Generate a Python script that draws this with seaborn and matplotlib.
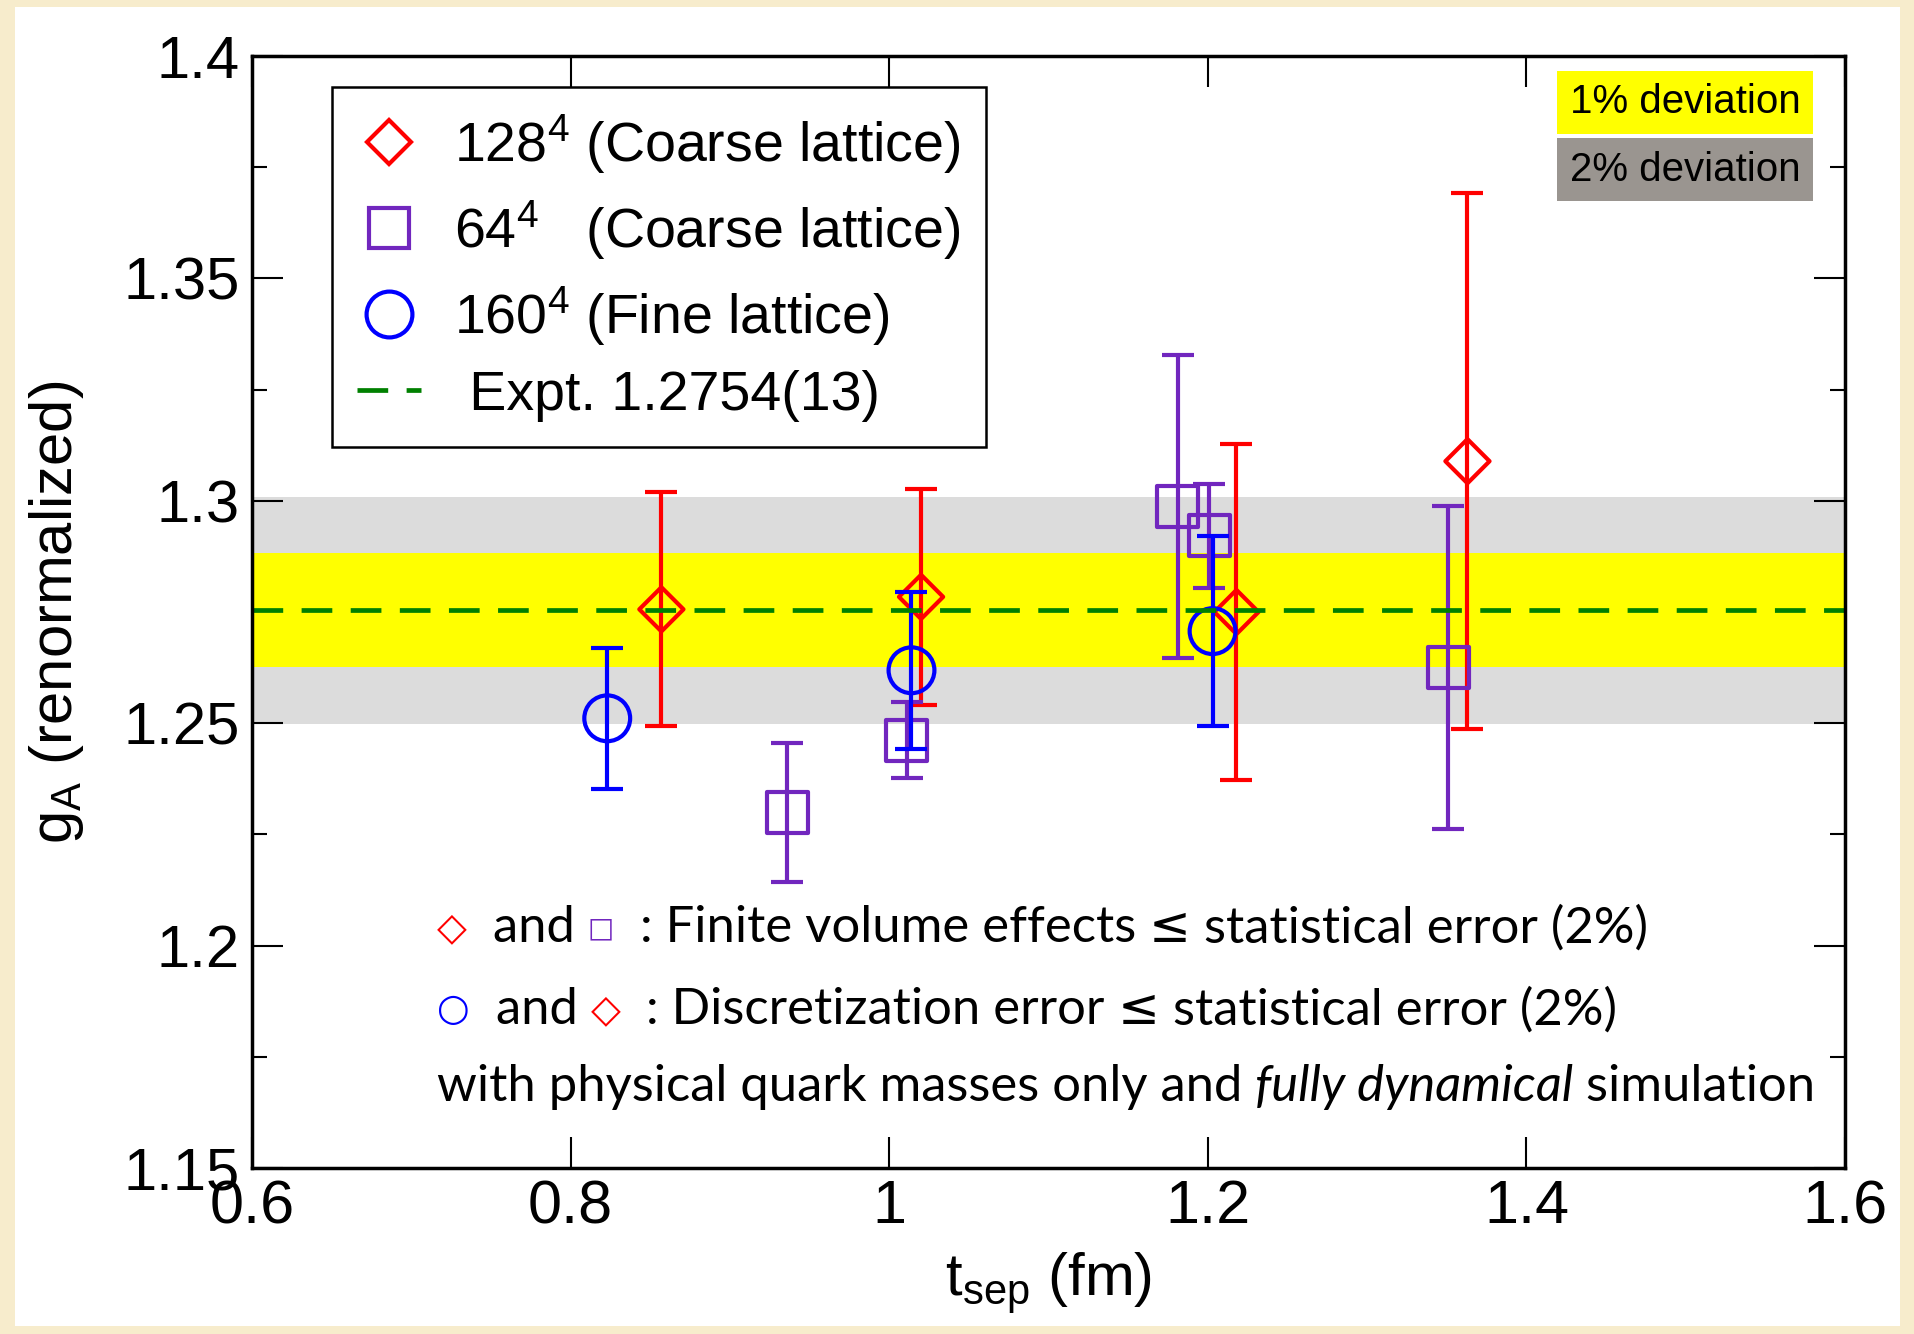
import numpy as np
import pandas as pd
import matplotlib
matplotlib.use("Agg")
import matplotlib.pyplot as plt
import seaborn as sns
from matplotlib.lines import Line2D
from matplotlib.patches import Rectangle
from matplotlib.ticker import MultipleLocator

# ---------------- data ----------------
t_coarse128 = [0.857, 1.020, 1.218, 1.363]
g_coarse128 = [1.2756, 1.2784, 1.2750, 1.3089]
e_coarse128 = [0.0263, 0.0243, 0.0378, 0.0602]

t_coarse64 = [0.936, 1.011, 1.181, 1.201, 1.351]
g_coarse64 = [1.2299, 1.2462, 1.2987, 1.2921, 1.2625]
e_coarse64 = [0.0156, 0.0086, 0.0340, 0.0117, 0.0363]

t_fine160 = [0.823, 1.014, 1.203]
g_fine160 = [1.2511, 1.2619, 1.2707]
e_fine160 = [0.0159, 0.0177, 0.0214]

g_expt = 1.2754
dev_1pct = 0.01
dev_2pct = 0.02

x_ticks = [0.6, 0.8, 1.0, 1.2, 1.4, 1.6]
x_ticklabels = ["0.6", "0.8", "1", "1.2", "1.4", "1.6"]
y_ticks = [1.15, 1.2, 1.25, 1.3, 1.35, 1.4]
y_ticklabels = ["1.15", "1.2", "1.25", "1.3", "1.35", "1.4"]

legend_labels = [r"128$^{4}$ (Coarse lattice)",
                 r"64$^{4}$   (Coarse lattice)",
                 r"160$^{4}$ (Fine lattice)",
                 " Expt. 1.2754(13)"]

# ---------------- style ----------------
sns.set_theme(style="ticks")
plt.rcParams["font.family"] = ["Liberation Sans", "DejaVu Sans"]
plt.rcParams["mathtext.fontset"] = "custom"
plt.rcParams["mathtext.rm"] = "Liberation Sans"
plt.rcParams["mathtext.it"] = "Liberation Sans:italic"
plt.rcParams["mathtext.bf"] = "Liberation Sans:bold"
for k in ["text.color", "axes.labelcolor", "xtick.color", "ytick.color",
          "axes.edgecolor", "xtick.labelcolor", "ytick.labelcolor"]:
    plt.rcParams[k] = "black"

RED = "#FF0000"
PURPLE = "#7126BE"
BLUE = "#0000FF"
GREEN = "#008000"

fig = plt.figure(figsize=(19.15, 13.34), dpi=100, facecolor="#F7ECCC")
fig.patches.append(Rectangle((15 / 1915, 1 - 1326 / 1334), (1900 - 15) / 1915,
                             (1326 - 7) / 1334, transform=fig.transFigure,
                             fc="white", ec="none", zorder=-10))
ax = fig.add_axes([0.13159, 0.12444, 0.83185, 0.83358])
ax.set_facecolor("white")

# bands
ax.axhspan(g_expt * (1 - dev_2pct), g_expt * (1 + dev_2pct), color="#DCDCDC", lw=0, zorder=0.5)
ax.axhspan(g_expt * (1 - dev_1pct), g_expt * (1 + dev_1pct), color="#FFFF00", lw=0, zorder=0.6)

mew = 3.0
series = [
    (t_coarse128, g_coarse128, e_coarse128, RED, "D", 22.5 ** 2, 3.0),
    (t_coarse64, g_coarse64, e_coarse64, PURPLE, "s", 29.5 ** 2, 3.2),
    (t_fine160, g_fine160, e_fine160, BLUE, "o", 33.0 ** 2, 3.4),
]
for t, g, e, c, m, s, z in series:
    ax.errorbar(t, g, yerr=e, fmt="none", ecolor=c, elinewidth=mew,
                capsize=11.5, capthick=mew, zorder=z)
    sns.scatterplot(x=t, y=g, ax=ax, marker=m, s=s, color=c,
                    facecolor="none", edgecolor=c, linewidth=mew,
                    zorder=z + 0.1, legend=False)

DASH = (0, (6.5, 3.9))
ax.axhline(g_expt, color=GREEN, lw=3.4, ls=DASH, zorder=5)

# axes
ax.set_xlim(0.6, 1.6)
ax.set_ylim(1.15, 1.4)
ax.set_xticks(x_ticks, x_ticklabels)
ax.set_yticks(y_ticks, y_ticklabels)
ax.yaxis.set_minor_locator(MultipleLocator(0.025))
ax.tick_params(which="both", direction="in", top=True, right=True,
               width=1.5, color="black")
ax.tick_params(which="major", length=22)
ax.tick_params(which="minor", length=11)
ax.tick_params(axis="x", which="minor", bottom=False, top=False)
ax.tick_params(axis="x", labelsize=44, pad=8)
ax.tick_params(axis="y", labelsize=43, pad=9)
for sp in ax.spines.values():
    sp.set_linewidth(2.5)
    sp.set_color("black")
    sp.set_zorder(10)

ax.set_xlabel(r"t$_{\mathrm{sep}}$ (fm)", fontsize=43)
ax.xaxis.set_label_coords(0.5, -0.074)
ax.set_ylabel(r"g$_{\mathrm{A}}$ (renormalized)", fontsize=43)
ax.yaxis.set_label_coords(-0.104, 0.5)

# legend
handles = [
    Line2D([], [], ls="none", marker="D", ms=22.5, mfc="none", mec=RED, mew=mew),
    Line2D([], [], ls="none", marker="s", ms=29.5, mfc="none", mec=PURPLE, mew=mew),
    Line2D([], [], ls="none", marker="o", ms=33, mfc="none", mec=BLUE, mew=mew),
    Line2D([], [], color=GREEN, lw=3.4, ls=DASH),
]
leg = ax.legend(handles, legend_labels, loc="upper left",
                bbox_to_anchor=(0.0502, 0.9721), borderaxespad=0,
                fontsize=40, frameon=True, fancybox=False, framealpha=1,
                edgecolor="black", borderpad=0.45, labelspacing=0.4,
                handlelength=1.15, handletextpad=0.6)
leg.get_frame().set_linewidth(1.8)
leg.set_zorder(20)

# deviation badges
ax.text(0.8996, 0.9582, "1% deviation", transform=ax.transAxes, ha="center",
        va="center", fontsize=29, zorder=20,
        bbox=dict(boxstyle="square,pad=0.32", fc="#FFFF00", ec="none"))
ax.text(0.8996, 0.8979, "2% deviation", transform=ax.transAxes, ha="center",
        va="center", fontsize=29, zorder=20,
        bbox=dict(boxstyle="square,pad=0.32", fc="#9A9590", ec="none"))

# annotation lines
BODY = ["Lato", "DejaVu Sans"]
SYM = ["DejaVu Sans"]
fs = 36.5


def rainbow(x, y, pieces):
    prev = None
    for txt, col, fam, size, style in pieces:
        if prev is None:
            prev = ax.text(x, y, txt, transform=ax.transAxes, ha="left", va="center",
                           color=col, family=fam, fontsize=size, style=style, zorder=20)
        else:
            prev = ax.annotate(txt, xy=(1, 0.5), xycoords=prev, ha="left", va="center",
                               color=col, family=fam, fontsize=size, style=style, zorder=20)


rainbow(0.116, 0.2158, [
    ("\u25C7", RED, SYM, 28, "normal"),
    ("  and ", "black", BODY, fs, "normal"),
    ("\u25A1", PURPLE, SYM, 20, "normal"),
    ("  : Finite volume effects ", "black", BODY, fs, "normal"),
    ("\u2264", "black", SYM, 36, "normal"),
    (" statistical error (2%)", "black", BODY, fs, "normal"),
])
rainbow(0.116, 0.142, [
    ("\u25CB", BLUE, SYM, 27, "normal"),
    ("  and ", "black", BODY, fs, "normal"),
    ("\u25C7", RED, SYM, 28, "normal"),
    ("  : Discretization error ", "black", BODY, fs, "normal"),
    ("\u2264", "black", SYM, 36, "normal"),
    (" statistical error (2%)", "black", BODY, fs, "normal"),
])
rainbow(0.116, 0.0728, [
    ("with physical quark masses only and ", "black", BODY, fs, "normal"),
    ("fully dynamical", "black", BODY, fs, "italic"),
    (" simulation", "black", BODY, fs, "normal"),
])

fig.savefig("out.png", dpi=100, facecolor=fig.get_facecolor())
